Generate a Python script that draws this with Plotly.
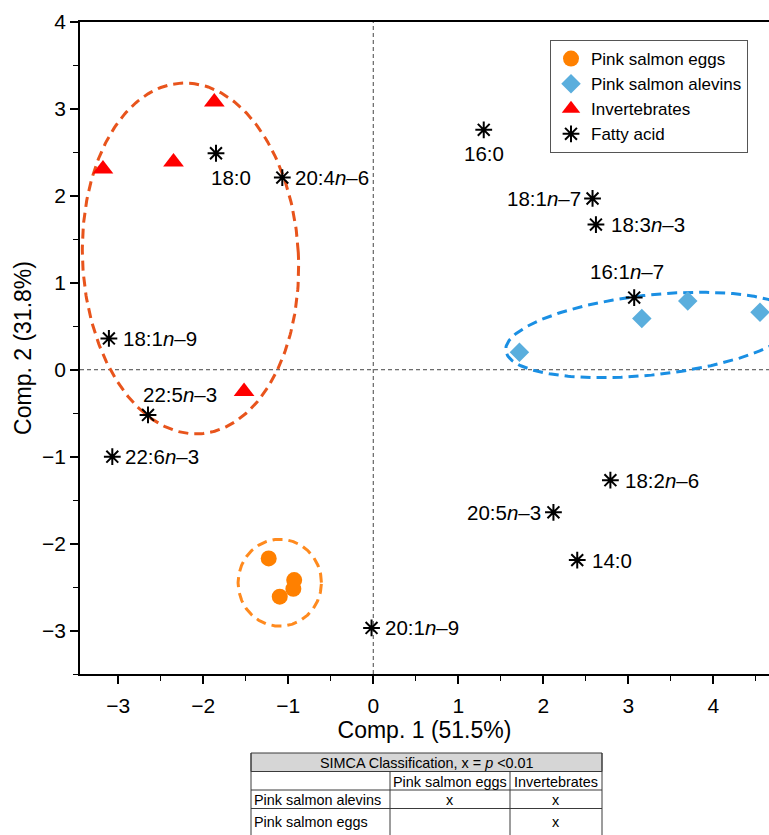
import numpy as np
import plotly.graph_objects as go

# ---------------- data ----------------
eggs_x = [-1.23, -0.93, -0.94, -1.10]
eggs_y = [-2.17, -2.42, -2.52, -2.61]

alevins_x = [1.72, 3.16, 3.70, 4.55]
alevins_y = [0.20, 0.59, 0.79, 0.66]

inv_x = [-3.18, -2.35, -1.87, -1.52]
inv_y = [2.31, 2.39, 3.08, -0.25]

fa_names = ["16:0", "18:1<i>n</i>–7", "18:3<i>n</i>–3", "16:1<i>n</i>–7",
            "18:2<i>n</i>–6", "20:5<i>n</i>–3", "14:0", "20:1<i>n</i>–9",
            "18:0", "20:4<i>n</i>–6", "18:1<i>n</i>–9", "22:5<i>n</i>–3",
            "22:6<i>n</i>–3"]
fa_x = [1.30, 2.58, 2.62, 3.07, 2.79, 2.12, 2.40, -0.02, -1.85, -1.07, -3.11, -2.65, -3.07]
fa_y = [2.76, 1.97, 1.67, 0.83, -1.27, -1.64, -2.19, -2.97, 2.49, 2.21, 0.36, -0.52, -1.00]

x_ticks = [-3, -2, -1, 0, 1, 2, 3, 4]
y_ticks = [-3, -2, -1, 0, 1, 2, 3, 4]
x_title = "Comp. 1 (51.5%)"
y_title = "Comp. 2 (31.8%)"

table_title = "SIMCA Classification, x = <i>p</i> <0.01"
table_header = ["", "Pink salmon eggs", "Invertebrates"]
table_rows = [["Pink salmon alevins", "x", "x"],
              ["Pink salmon eggs", "", "x"]]

# label placement (style): anchor, xshift, yshift in px
fa_label_style = [
    ("center", 0, -24), ("right", -10, 0), ("left", 13, 0), ("center", -7, 26),
    ("left", 13, 0), ("right", -10, 0), ("left", 13, 0), ("left", 11, 0),
    ("center", 15, -24), ("left", 11, 0), ("left", 12, 0), ("center", 32, 20),
    ("left", 11, 0),
]

# ellipse (group outline) parameters: cx, cy, rx, ry, angle(deg), colour
ellipses = [
    (-2.15, 1.28, 1.27, 2.02, 3.0, "#E8541C"),
    (-1.10, -2.45, 0.49, 0.50, 0.0, "#FF8A1E"),
    (3.27, 0.40, 1.72, 0.46, 6.0, "#1A8FE3"),
]

# ---------------- layout constants ----------------
FIG_W, FIG_H = 769, 835
ML, MR, MT, MB = 80, 0, 22, 161
X_RANGE = [-3.45, 4.656]
Y_RANGE = [-3.5, 4.0]
FONT = "Liberation Sans, Arial, sans-serif"

PW = FIG_W - ML - MR
PH = FIG_H - MT - MB


def px2paper_x(px):
    return (px - ML) / PW


def px2paper_y(py):
    return (FIG_H - MB - py) / PH


fig = go.Figure()

# ellipses
t = np.linspace(0, 2 * np.pi, 300)
for cx, cy, rx, ry, ang, col in ellipses:
    th = np.deg2rad(ang)
    ex = cx + rx * np.cos(t) * np.cos(th) - ry * np.sin(t) * np.sin(th)
    ey = cy + rx * np.cos(t) * np.sin(th) + ry * np.sin(t) * np.cos(th)
    fig.add_trace(go.Scatter(x=ex, y=ey, mode="lines", showlegend=False,
                             hoverinfo="skip",
                             line=dict(color=col, width=3, dash="10px,6px")))

fig.add_trace(go.Scatter(x=eggs_x, y=eggs_y, mode="markers", name="Pink salmon eggs",
                         marker=dict(symbol="circle", size=16, color="#FF8000")))
fig.add_trace(go.Scatter(x=alevins_x, y=alevins_y, mode="markers", name="Pink salmon alevins",
                         marker=dict(symbol="diamond", size=15, color="#5AAEDD")))
fig.add_trace(go.Scatter(x=inv_x, y=inv_y, mode="markers", name="Invertebrates",
                         marker=dict(symbol="triangle-up", size=18, color="#FF0000")))
fig.add_trace(go.Scatter(x=fa_x, y=fa_y, mode="markers", name="Fatty acid",
                         marker=dict(symbol="asterisk-open", size=14, color="black",
                                     line=dict(color="black", width=2))))

for name, x, y, (anc, xs, ys) in zip(fa_names, fa_x, fa_y, fa_label_style):
    fig.add_annotation(x=x, y=y, text=name, showarrow=False, xanchor=anc,
                       yanchor="middle", xshift=xs, yshift=ys,
                       font=dict(family=FONT, size=20.5, color="black"))

# zero lines
fig.add_shape(type="line", x0=0, x1=0, y0=Y_RANGE[0], y1=Y_RANGE[1], xref="x", yref="y",
              line=dict(color="#444", width=1, dash="4px,3px"), layer="below")
fig.add_shape(type="line", x0=X_RANGE[0], x1=X_RANGE[1], y0=0, y1=0, xref="x", yref="y",
              line=dict(color="#444", width=1, dash="4px,3px"), layer="below")

# ---------------- table ----------------
T_LEFT, T_TOP = 251, 753
col_w = [139, 120, 92]
row_h = 18.5
col_edges = [T_LEFT]
for w in col_w:
    col_edges.append(col_edges[-1] + w)
n_rows = 2 + len(table_rows)
row_edges = [T_TOP + i * row_h for i in range(n_rows + 1)]
row_edges[-1] = FIG_H + 5
line_col = "#3a3a3a"
tfont = dict(family=FONT, size=14.4, color="black")

# title background
fig.add_shape(type="rect", xref="paper", yref="paper",
              x0=px2paper_x(col_edges[0]), x1=px2paper_x(col_edges[-1]),
              y0=px2paper_y(row_edges[0]), y1=px2paper_y(row_edges[1]),
              fillcolor="#D6D6D6", line=dict(color=line_col, width=1))
# horizontal lines
for r in row_edges[1:-1]:
    fig.add_shape(type="line", xref="paper", yref="paper",
                  x0=px2paper_x(col_edges[0]), x1=px2paper_x(col_edges[-1]),
                  y0=px2paper_y(r), y1=px2paper_y(r), line=dict(color=line_col, width=1))
# vertical lines
for i, c in enumerate(col_edges):
    fig.add_shape(type="line", xref="paper", yref="paper",
                  x0=px2paper_x(c), x1=px2paper_x(c),
                  y0=px2paper_y(row_edges[0] if i in (0, len(col_edges) - 1) else row_edges[1]),
                  y1=px2paper_y(row_edges[-1]), line=dict(color=line_col, width=1))

fig.add_annotation(xref="paper", yref="paper", x=px2paper_x((col_edges[0] + col_edges[-1]) / 2),
                   y=px2paper_y((row_edges[0] + row_edges[1]) / 2 + 1), text=table_title,
                   showarrow=False, xanchor="center", yanchor="middle", font=tfont)
all_rows = [table_header] + table_rows
for ri, row in enumerate(all_rows):
    yc = (T_TOP + (ri + 1) * row_h + T_TOP + (ri + 2) * row_h) / 2 + 1
    if ri == len(all_rows) - 1:
        yc += 3
    for ci, val in enumerate(row):
        if not val:
            continue
        if ci == 0:
            xp, anc = col_edges[0] + 1, "left"
        else:
            xp, anc = (col_edges[ci] + col_edges[ci + 1]) / 2, "center"
        fig.add_annotation(xref="paper", yref="paper", x=px2paper_x(xp), y=px2paper_y(yc),
                           text=val, showarrow=False, xanchor=anc, yanchor="middle",
                           font=tfont)

fig.update_layout(
    width=FIG_W, height=FIG_H,
    margin=dict(l=ML, r=MR, t=MT, b=MB, pad=0),
    paper_bgcolor="white", plot_bgcolor="white",
    font=dict(family=FONT, color="black"),
    legend=dict(x=px2paper_x(550), y=px2paper_y(40), xanchor="left", yanchor="top",
                bgcolor="white", bordercolor="#555", borderwidth=1,
                font=dict(family=FONT, size=17, color="black"), tracegroupgap=0),
    xaxis=dict(range=X_RANGE, tickvals=x_ticks, showgrid=False, zeroline=False,
               showline=True, linecolor="black", linewidth=1.5, mirror=True,
               ticks="outside", ticklen=8, tickwidth=1.5, tickcolor="black",
               minor=dict(dtick=0.5, tick0=0, ticks="outside", ticklen=5, tickwidth=1.2,
                          tickcolor="black", showgrid=False),
               tickfont=dict(family=FONT, size=21), ticklabelstandoff=4,
               title=dict(text=x_title, font=dict(family=FONT, size=23), standoff=2),
               automargin=False),
    yaxis=dict(range=Y_RANGE, tickvals=y_ticks, showgrid=False, zeroline=False,
               showline=True, linecolor="black", linewidth=1.5,
               ticks="outside", ticklen=8, tickwidth=1.5, tickcolor="black",
               minor=dict(dtick=0.5, tick0=0, ticks="outside", ticklen=5, tickwidth=1.2,
                          tickcolor="black", showgrid=False),
               tickfont=dict(family=FONT, size=21),
               title=dict(text=y_title, font=dict(family=FONT, size=23), standoff=4),
               automargin=False),
)

fig.write_html("out.html")
